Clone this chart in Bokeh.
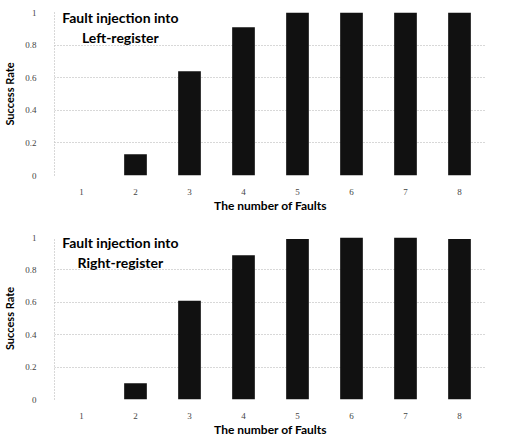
from bokeh.plotting import figure
from bokeh.models import FixedTicker, Label
from bokeh.layouts import column
from bokeh.embed import file_html
from bokeh.resources import INLINE

faults = ["1", "2", "3", "4", "5", "6", "7", "8"]
left_rate = [0.0, 0.13, 0.64, 0.91, 1.0, 1.0, 1.0, 1.0]
right_rate = [0.0, 0.10, 0.61, 0.89, 0.99, 1.0, 1.0, 0.99]
y_ticks = [0, 0.2, 0.4, 0.6, 0.8, 1]
y_tick_labels = ["0", "0.2", "0.4", "0.6", "0.8", "1"]
titles = [["Fault injection into", "Left-register"], ["Fault injection into", "Right-register"]]
x_title = "The number of Faults"
y_title = "Success Rate"

BOLD = "Lato"
TICKF = "Liberation Serif"


def make_panel(values, title_lines, top, bottom):
    p = figure(x_range=faults, y_range=(0, 1.0), width=511, height=top + 163 + bottom,
               output_backend="svg", toolbar_location=None,
               min_border_left=52, min_border_right=25,
               min_border_top=top, min_border_bottom=bottom)
    p.vbar(x=faults, top=values, width=0.42, fill_color="#111111", line_color=None)
    p.outline_line_color = None
    p.background_fill_color = "white"
    p.border_fill_color = "white"

    p.xgrid.grid_line_color = None
    p.ygrid.grid_line_color = "#b0b0b0"
    p.ygrid.grid_line_dash = "1 2"
    p.ygrid.ticker = FixedTicker(ticks=y_ticks)

    p.yaxis.ticker = FixedTicker(ticks=y_ticks)
    p.yaxis.major_label_overrides = {t: l for t, l in zip(y_ticks, y_tick_labels)}
    for ax in (p.xaxis, p.yaxis):
        ax.major_tick_line_color = None
        ax.minor_tick_line_color = None
        ax.major_label_text_font = TICKF
        ax.major_label_text_font_size = "9px"
        ax.major_label_text_color = "#444444"
        ax.axis_label_text_font = BOLD
        ax.axis_label_text_font_style = "bold"
        ax.axis_label_text_font_size = "12px"
        ax.axis_label_text_color = "#000000"
    p.xaxis.axis_line_color = None
    p.yaxis.axis_line_color = "#b0b0b0"
    p.yaxis.axis_line_dash = "1 2"
    p.yaxis.major_label_standoff = 12
    p.xaxis.major_label_standoff = 7
    p.xaxis.axis_label = x_title
    p.xaxis.axis_label_standoff = 0
    p.yaxis.axis_label = y_title
    p.yaxis.axis_label_text_font_size = "11px"
    p.yaxis.axis_label_standoff = 6

    for yy, txt in zip([0.97, 0.845], title_lines):
        p.add_layout(Label(x=1.22, y=yy, text=txt, text_align="center",
                           text_baseline="middle", text_font=BOLD,
                           text_font_style="bold", text_font_size="14px",
                           text_color="#000000"))
    return p


p1 = make_panel(left_rate, titles[0], 12, 45)
p2 = make_panel(right_rate, titles[1], 17, 39)
layout = column(p1, p2, spacing=0)

open("out.html", "w").write(file_html(layout, INLINE))
